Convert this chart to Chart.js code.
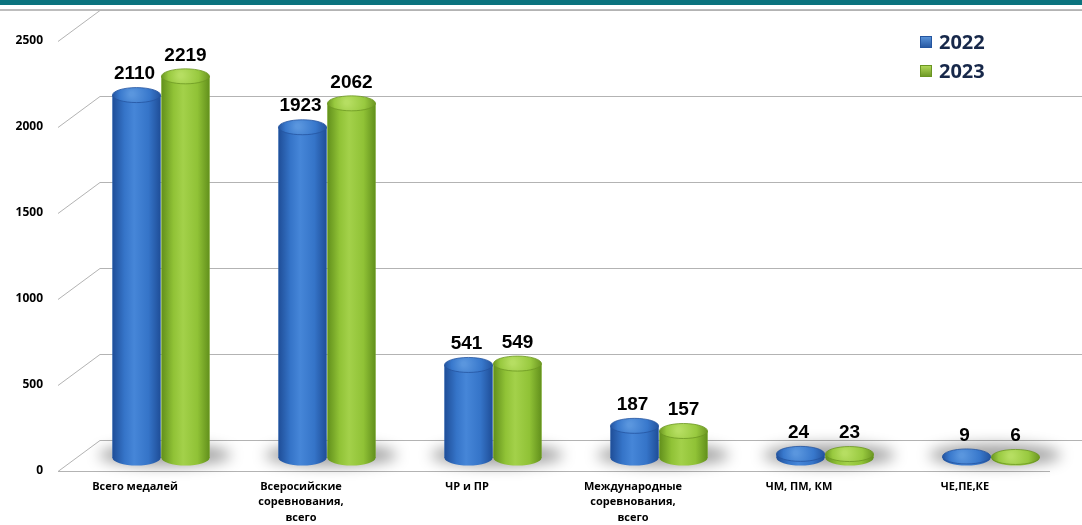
<!DOCTYPE html>
<html><head><meta charset="utf-8">
<script src="https://cdn.jsdelivr.net/npm/chart.js@4.4.1/dist/chart.umd.min.js"></script>
<style>html,body{margin:0;padding:0;background:#fff;overflow:hidden}#wrap{width:1082px;height:525px;position:relative}canvas{display:block}</style>
</head><body><div id="wrap"><canvas id="c" width="1082" height="525" style="width:1082px;height:525px"></canvas></div>
<script>
const categories = [
  ['Всего медалей'],
  ['Всеросийские', 'соревнования,', 'всего'],
  ['ЧР и ПР'],
  ['Международные', 'соревнования,', 'всего'],
  ['ЧМ, ПМ, КМ'],
  ['ЧЕ,ПЕ,КЕ']
];
const seriesNames = ['2022', '2023'];
const values2022 = [2110, 1923, 541, 187, 24, 9];
const values2023 = [2219, 2062, 549, 157, 23, 6];
const yMin = 0, yMax = 2500, yStep = 500;

const palettes = [
  {edge:'#1f4e98', mid:'#3574c8', light:'#4686d8', cap:'#3878cc', capLight:'#5a96de', rim:'#24549f', legendTop:'#5d97dd', legendBot:'#24559f'},
  {edge:'#62901c', mid:'#90c236', light:'#a3d14a', cap:'#98c93f', capLight:'#b6de62', rim:'#6c9722', legendTop:'#b6dc5c', legendBot:'#6a9522'}
];

function bodyGrad(ctx, x, w, p) {
  const g = ctx.createLinearGradient(x - w/2, 0, x + w/2, 0);
  g.addColorStop(0, p.edge);
  g.addColorStop(0.25, p.mid);
  g.addColorStop(0.45, p.light);
  g.addColorStop(0.75, p.mid);
  g.addColorStop(1, p.edge);
  return g;
}

const decor = {
  id: 'decor',
  beforeDraw(chart) {
    const ctx = chart.ctx;
    ctx.save();
    ctx.fillStyle = '#fff';
    ctx.fillRect(0, 0, chart.width, chart.height);
    ctx.fillStyle = '#0b737e';
    ctx.fillRect(0, 0, chart.width, 5);
    ctx.fillStyle = '#bdbdbd';
    ctx.fillRect(0, 9, chart.width, 2);
    ctx.restore();
  },
  beforeDatasetsDraw(chart) {
    const ctx = chart.ctx, ys = chart.scales.y;
    ctx.save();
    ctx.strokeStyle = '#b3b3b3';
    ctx.lineWidth = 1;
    ys.ticks.forEach(t => {
      const py = Math.round(ys.getPixelForValue(t.value));
      const fy = py + 13.5, by = py - 17.5;
      ctx.beginPath();
      ctx.moveTo(58, fy);
      ctx.lineTo(100, by);
      ctx.lineTo(chart.width, by);
      ctx.stroke();
      if (t.value === 0) {
        ctx.beginPath();
        ctx.moveTo(58, fy);
        ctx.lineTo(1050, fy);
        ctx.stroke();
      }
    });
    const m0 = chart.getDatasetMeta(0), m1 = chart.getDatasetMeta(1);
    ctx.filter = 'blur(7px)';
    ctx.fillStyle = 'rgba(0,0,0,0.36)';
    m0.data.forEach((el, i) => {
      const el2 = m1.data[i];
      const cx = (el.x + el2.x) / 2;
      const base = el.base;
      ctx.beginPath();
      ctx.ellipse(cx + 4, base - 3, 66, 11, 0, 0, Math.PI * 2);
      ctx.fill();
    });
    ctx.filter = 'none';
    ctx.restore();
  },
  afterDatasetsDraw(chart) {
    const ctx = chart.ctx;
    ctx.save();
    chart.data.datasets.forEach((ds, di) => {
      const p = palettes[di];
      const meta = chart.getDatasetMeta(di);
      meta.data.forEach((el, i) => {
        const x = el.x, w = el.width, rx = w / 2, ry = 7.5;
        const top = el.y, base = el.base;
        const g = bodyGrad(ctx, x, w, p);
        ctx.fillStyle = g;
        ctx.beginPath();
        ctx.ellipse(x, base, rx, ry, 0, 0, Math.PI * 2);
        ctx.fill();
        ctx.fillRect(x - rx, top, w, base - top);
        const cg = ctx.createRadialGradient(x - rx * 0.2, top - 1, 2, x, top, rx);
        cg.addColorStop(0, p.capLight);
        cg.addColorStop(0.6, p.cap);
        cg.addColorStop(1, p.rim);
        ctx.fillStyle = cg;
        ctx.beginPath();
        ctx.ellipse(x, top, rx, ry, 0, 0, Math.PI * 2);
        ctx.fill();
        ctx.strokeStyle = p.rim;
        ctx.lineWidth = 0.8;
        ctx.stroke();
        ctx.fillStyle = '#000';
        ctx.font = 'bold 19px "Liberation Sans", Arial, sans-serif';
        ctx.textAlign = 'center';
        ctx.textBaseline = 'middle';
        ctx.fillText(String(ds.data[i]), x - (di === 0 ? 2 : 0), top - 21);
      });
    });
    ctx.restore();
  },
  afterDraw(chart) {
    const ctx = chart.ctx;
    ctx.save();
    chart.data.datasets.forEach((ds, di) => {
      const p = palettes[di];
      const bx = 920, by = 36 + di * 29;
      const g = ctx.createLinearGradient(0, by, 0, by + 12);
      g.addColorStop(0, p.legendTop);
      g.addColorStop(1, p.legendBot);
      ctx.fillStyle = g;
      ctx.fillRect(bx, by, 12, 12);
      ctx.strokeStyle = p.legendBot;
      ctx.lineWidth = 1;
      ctx.strokeRect(bx + 0.5, by + 0.5, 11, 11);
      ctx.fillStyle = '#17284a';
      ctx.font = 'bold 20px "Open Sans", sans-serif';
      ctx.textAlign = 'left';
      ctx.textBaseline = 'middle';
      ctx.fillText(ds.label, 939, by + 7);
    });
    ctx.restore();
  }
};

new Chart(document.getElementById('c'), {
  type: 'bar',
  data: {
    labels: categories,
    datasets: [
      {label: seriesNames[0], data: values2022, backgroundColor: palettes[0].mid, borderWidth: 0},
      {label: seriesNames[1], data: values2023, backgroundColor: palettes[1].mid, borderWidth: 0}
    ]
  },
  options: {
    responsive: false,
    maintainAspectRatio: false,
    animation: false,
    devicePixelRatio: 1,
    layout: {padding: {top: 28, right: 8, left: 0, bottom: 0}},
    categoryPercentage: 0.59,
    barPercentage: 0.98,
    plugins: {legend: {display: false}, tooltip: {enabled: false}, title: {display: false}},
    scales: {
      x: {
        grid: {display: false, drawTicks: false},
        border: {display: false},
        ticks: {
          autoSkip: false, maxRotation: 0, minRotation: 0,
          padding: 21, labelOffset: -26, color: '#000',
          font: {family: '"Open Sans", sans-serif', size: 11, weight: 'bold', lineHeight: 1.41}
        },
        afterFit(s) { s.height = 67; }
      },
      y: {
        min: yMin, max: yMax,
        grid: {display: false, drawTicks: false},
        border: {display: false},
        ticks: {
          stepSize: yStep, padding: 35, labelOffset: 13, color: '#000',
          font: {family: '"Open Sans", sans-serif', size: 12, weight: 'bold'},
          callback: v => String(v)
        },
        afterFit(s) { s.width = 78; s.paddingTop = 0; s.paddingBottom = 0; }
      }
    }
  },
  plugins: [decor]
});
</script>
</body></html>
